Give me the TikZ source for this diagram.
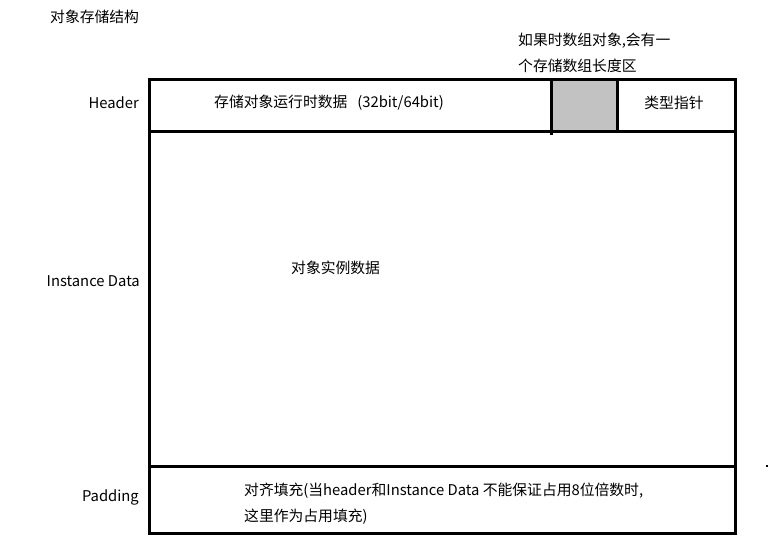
\documentclass[tikz,border=0pt]{standalone}
\usepackage{fontspec}
\setmainfont{Noto Sans CJK SC}
\begin{document}
\begin{tikzpicture}[x=1pt,y=-1pt,
  lbl/.style={inner sep=0pt,font=\fontsize{14.8}{16}\selectfont},
  frame/.style={line width=3pt,draw=black},
  greycell/.style={fill=black!24}]
\useasboundingbox (0,0) rectangle (768,550);
% cells
\fill[greycell] (551,79) rectangle (617,131);
\draw[frame] (149,79) rectangle (735,533);
\draw[frame] (149,131) -- (735,131);
\draw[frame] (149,466) -- (735,466);
\draw[frame] (551,79) -- (551,135);
\draw[frame] (617,79) -- (617,131);
\fill (765.5,464.5) rectangle (767.5,466.5);
% texts
\node[lbl,anchor=west] (title) at (50,17) {对象存储结构};
\node[lbl,anchor=west] (note1) at (518,41) {如果时数组对象,会有一};
\node[lbl,anchor=west] (note2) at (518,66) {个存储数组长度区};
\node[lbl,anchor=east] (hdr) at (139,103) {Header};
\node[lbl,anchor=west] (mark) at (214,103) {存储对象运行时数据\ \ \ (32bit/64bit)};
\node[lbl] (klass) at (674,103) {类型指针};
\node[lbl,anchor=east] (inst) at (140,281) {Instance Data};
\node[lbl,anchor=west] (instd) at (291,268) {对象实例数据};
\node[lbl,anchor=east] (pad) at (139,497) {Padding};
\node[lbl,anchor=west] (pad1) at (244,491) {对齐填充(当header和Instance Data 不能保证占用8位倍数时,};
\node[lbl,anchor=west] (pad2) at (244,517) {这里作为占用填充)};
\end{tikzpicture}
\end{document}
